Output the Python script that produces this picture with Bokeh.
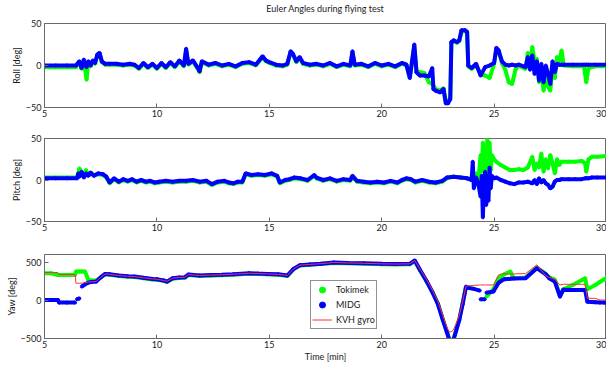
import numpy as np
from bokeh.plotting import figure
from bokeh.layouts import column
from bokeh.models import FixedTicker, Legend, LegendItem, Range1d, Div
from bokeh.embed import file_html
from bokeh.resources import INLINE

NAN = float("nan")

# ---------------- data ----------------
title_text = "Euler Angles during flying test"
x_ticks = [5, 10, 15, 20, 25, 30]

roll_t = [5.0, 5.5, 6.0, 6.4, 6.55, 6.65, 6.75, 6.87, 6.95, 7.05,
          7.15, 7.25, 7.35, 7.45, 7.55, 7.7, 7.9, 8.2, 8.5, 8.8,
          9.0, 9.2, 9.4, 9.6, 9.8, 10.0, 10.2, 10.4, 10.6, 10.8,
          11.0, 11.2, 11.3, 11.4, 11.6, 11.8, 11.9, 12.0, 12.3, 12.6,
          12.9, 13.2, 13.5, 13.8, 14.1, 14.4, 14.7, 14.85, 15.0, 15.3,
          15.6, 15.8, 15.95, 16.05, 16.2, 16.35, 16.5, 16.8, 17.1, 17.4,
          17.7, 18.0, 18.3, 18.6, 18.7, 18.8, 19.1, 19.4, 19.7, 20.0,
          20.3, 20.6, 20.9, 21.1, 21.25, 21.35, 21.45, 21.55, 21.7, 21.9,
          22.1, 22.25, 22.3, 22.4, 22.6, 22.75, 22.85, 22.95, 23.05, 23.1,
          23.2, 23.35, 23.45, 23.55, 23.7, 23.8, 23.85, 24.0, 24.2, 24.4,
          24.6, 24.8, 25.0, 25.1, 25.2, 25.35, 25.5, 25.65, 25.8, 25.95,
          26.1, 26.4, 26.5, 26.6, 26.7, 26.8, 26.9, 27.0, 27.1, 27.2,
          27.3, 27.4, 27.5, 27.6, 27.7, 27.8, 27.9, 28.0, 28.1, 28.5,
          29.0, 29.1, 29.2, 29.5, 30.0]
roll_midg = [0, 0, 0, 0, 5, -3, 7, -2, 5, 0,
             6, 3, 13, 15, 5, 2, 2, 2, 1, 2,
             1, -3, 3, -2, 2, -3, 3, -2, 4, -1,
             6, 0, 20, 2, 6, -2, -7, 5, 1, 3,
             0, 2, -1, 3, 4, 1, 11, 6, 4, 1,
             0, 2, 17, 14, 5, 10, 3, 1, 2, 0,
             3, -1, 2, 0, 17, 1, 2, -1, 3, 0,
             2, -1, 3, 1, -15, 5, 25, -8, -12, -12,
             -13, -3, -28, -30, -32, -28, -45, -45, -40, 28,
             30, 28, 30, 42, 42, 40, 0, -3, 2, -12,
             -2, 0, 3, 21, 18, 5, 1, 0, 1, 0,
             1, -2, 10, -5, 12, -10, 5, -18, 2, -20,
             0, -10, -22, 5, -8, 2, 1, 1, 1, 1,
             1, 1, 1, 1, 1]
roll_tokimek = [-2, -2, -2, -2, 4, -4, 6, -17, 4, -1,
                5, 2, 12, 14, 4, 1, 1, 1, 0, 1,
                0, -4, 2, -3, 1, -4, 2, -3, 3, -2,
                5, -1, 18, 1, 5, -3, -8, 4, 0, 2,
                -1, 1, -2, 2, 3, 0, 10, 5, 3, 0,
                -1, 1, 16, 13, 4, 9, 2, 0, 1, -1,
                2, -2, 1, -1, 15, 0, 1, -2, 2, -1,
                1, -2, 2, 0, -14, 4, 23, -8, -8, -9,
                -20, -22, -24, -28, -30, -27, -43, -44, -38, 27,
                29, 27, 29, 40, 41, 39, -1, -4, 0, -10,
                -12, -15, 2, 20, 17, 3, -5, -20, -22, -5,
                0, -4, 15, 0, 22, 5, 8, -20, -5, -30,
                -10, -25, -30, 0, -15, 10, 5, 18, 0, -1,
                -1, -20, -3, -1, -1]

pitch_t = [5.0, 5.5, 6.0, 6.45, 6.5, 6.55, 6.65, 6.75, 6.85, 6.95,
           7.05, 7.2, 7.4, 7.6, 7.75, 7.9, 8.1, 8.3, 8.5, 8.7,
           8.9, 9.1, 9.3, 9.5, 9.7, 9.9, 10.1, 10.4, 10.7, 11.0,
           11.3, 11.6, 11.9, 12.2, 12.45, 12.7, 13.0, 13.2, 13.4, 13.6,
           13.8, 13.95, 14.2, 14.5, 14.8, 15.1, 15.35, 15.47, 15.7, 15.9,
           16.1, 16.4, 16.7, 17.0, 17.1, 17.4, 17.7, 18.0, 18.3, 18.6,
           18.7, 18.9, 19.2, 19.5, 19.8, 20.1, 20.4, 20.7, 20.9, 21.1,
           21.3, 21.5, 21.8, 22.1, 22.4, 22.7, 22.9, 23.2, 23.5, 23.8,
           24.0, 24.05, 24.1, 24.2, 24.3, 24.4, 24.45, 24.5, 24.55, 24.6,
           24.65, 24.7, 24.75, 24.8, 24.85, 24.9, 25.0, 25.1, 25.3, 25.5,
           25.7, 25.9, 26.1, 26.3, 26.5, 26.7, 26.8, 26.9, 27.0, 27.1,
           27.2, 27.3, 27.4, 27.5, 27.6, 27.7, 27.8, 27.9, 28.0, 28.3,
           28.6, 28.9, 29.05, 29.1, 29.2, 29.35, 29.6, 30.0]
pitch_midg = [2, 2, 2, 2, 8, 4, 10, 3, 8, 5,
              9, 5, 8, 7, 4, -3, 2, -2, 1, -1,
              1, -2, 0, -2, -1, -3, -2, -1, -2, -1,
              -1, 0, -2, -1, -5, -2, -1, -3, -4, -2,
              -2, 8, 6, 7, 6, 8, 5, -3, 0, 1,
              3, 2, 0, 6, 3, 0, 2, -1, 1, 0,
              5, -1, -2, -3, -2, -3, -1, -3, 0, 2,
              1, -2, 0, -2, -3, -1, 3, 4, 3, 2,
              0, 22, -10, 3, -5, -20, 5, -45, -5, 10,
              -30, 5, -25, 15, -10, 5, 2, 3, 0, -2,
              -4, -5, -3, -3, -2, -4, 0, -5, 2, -3,
              0, -4, -6, -10, -8, -2, 0, 0, 1, 1,
              1, 1, 2, 2, 2, 3, 3, 3]
pitch_tokimek = [3, 3, 3, 3, 7, 14, 9, 5, 12, 6,
                 8, 6, 7, 6, 3, -4, 1, -3, 0, -2,
                 0, -3, -1, -3, -2, -4, -3, -2, -3, -2,
                 -2, -1, -3, -2, -6, -3, -2, -4, -5, -3,
                 -3, 7, 5, 6, 5, 7, 4, -4, -1, 0,
                 2, 1, -1, 5, 2, -1, 1, -2, 0, -1,
                 4, -2, -3, -4, -3, -4, -2, -4, -1, 1,
                 0, -3, -1, -3, -4, -2, 2, 4, 3, 2,
                 1, 5, 2, 8, 0, 30, 10, 45, 15, 40,
                 5, 50, 20, 45, 12, 30, 25, 22, 18, 15,
                 12, 12, 13, 12, 15, 28, 12, 20, 15, 32,
                 10, 25, 14, 30, 20, 8, 25, 18, 22, 22,
                 22, 23, 20, 10, 25, 28, 28, 29]

yaw_t = [5.0, 5.3, 5.6, 5.65, 6.0, 6.36, 6.4, 6.45, 6.55, 6.64,
         6.66, 6.8, 6.95, 7.1, 7.3, 7.5, 7.7, 7.9, 8.3, 8.7,
         9.0, 9.4, 9.8, 10.0, 10.3, 10.45, 10.7, 11.0, 11.25, 11.4,
         11.9, 12.4, 12.9, 13.4, 14.1, 14.5, 14.9, 15.4, 15.8, 16.07,
         16.36, 16.8, 17.3, 17.87, 18.5, 19.2, 20.0, 20.6, 21.25, 21.47,
         21.7, 22.0, 22.28, 22.5, 22.72, 22.9, 23.0, 23.1, 23.2, 23.45,
         23.6, 23.75, 23.9, 24.1, 24.36, 24.38, 24.4, 24.58, 24.62, 24.66,
         24.97, 25.2, 25.34, 25.45, 25.72, 25.87, 26.4, 26.9, 27.3, 27.45,
         27.7, 27.93, 28.08, 28.5, 29.05, 29.15, 29.5, 29.7, 29.9, 30.0]
yaw_midg = [5, 5, 5, -30, -30, -30, NAN, 15, 25, NAN,
            180, 210, 232, 240, 245, 300, 346, 340, 325, 315,
            311, 295, 280, 276, 260, 245, 290, 300, 303, 338,
            325, 330, 335, 342, 355, 350, 346, 340, 325, 410,
            460, 470, 480, 496, 490, 485, 478, 475, 478, 522,
            400, 250, 92, -50, -259, -420, -510, -530, -510, -259,
            -50, 179, 160, 150, 127, NAN, 13, 13, NAN, 100,
            115, 230, 258, 276, 282, 286, 290, 421, 340, 290,
            245, 48, 140, 135, 135, -20, -25, -28, -30, -30]
yaw_tokimek = [355, 355, 330, 330, 330, 330, 377, 377, 377, 377,
               377, 377, 268, 260, 260, 300, 340, 335, 318, 308,
               305, 290, 272, 270, 255, 240, 282, 292, 296, 330,
               318, 322, 328, 335, 348, 344, 340, 333, 318, 405,
               455, 465, 475, 490, 484, 480, 472, 470, 472, 515,
               395, 245, 95, -40, -250, -410, -500, -520, -500, -250,
               -40, 175, 165, 150, NAN, NAN, NAN, NAN, NAN, 48,
               145, 290, 320, 340, 377, 290, 300, 430, 345, 300,
               270, 60, 145, 200, 290, 145, 200, 240, 276, 290]
yaw_kvh = [364, 364, 364, 338, 338, 338, 224, 224, 224, 224,
           224, 230, 240, 242, 247, 300, 346, 340, 325, 315,
           311, 295, 280, 276, 260, 248, 290, 300, 303, 338,
           325, 330, 335, 342, 355, 350, 346, 340, 325, 410,
           460, 470, 480, 496, 490, 485, 478, 475, 478, 522,
           410, 270, 120, -10, -200, -350, -413, -413, -380, -200,
           -20, 185, 190, 195, 201, 201, 201, 201, 201, 201,
           201, 333, 346, 346, 346, 346, 350, 465, 320, 300,
           276, 201, 210, 210, 210, 26, 26, 4, 4, 4]

FONT = "Lato"
TXT = "#1a1a1a"
AX = "#6a6a6a"
GREEN = "#00ff00"
BLUE = "#0000ff"
RED = "#ff3030"


def make_fig(height, top, bottom, yr, yticks, ylabel):
    p = figure(width=606, height=height, x_range=Range1d(5, 30), y_range=Range1d(*yr),
               output_backend="svg", toolbar_location=None,
               min_border_left=44, min_border_right=0,
               min_border_top=top, min_border_bottom=bottom)
    p.outline_line_color = AX
    p.xgrid.visible = False
    p.ygrid.visible = False
    p.background_fill_color = "white"
    p.border_fill_color = "white"
    xa = p.below[0]
    ya = p.left[0]
    for ax in (xa, ya):
        ax.major_tick_in = 4
        ax.major_tick_out = 0
        ax.minor_tick_line_color = None
        ax.axis_line_color = AX
        ax.major_tick_line_color = AX
        ax.major_label_text_font = FONT
        ax.major_label_text_font_size = "9px"
        ax.major_label_text_color = TXT
        ax.axis_label_text_font = FONT
        ax.axis_label_text_font_size = "9px"
        ax.axis_label_text_font_style = "normal"
        ax.axis_label_text_color = TXT
    xa.ticker = FixedTicker(ticks=x_ticks)
    xa.major_label_standoff = 2
    ya.ticker = FixedTicker(ticks=yticks)
    ya.major_label_standoff = 3
    ya.axis_label = ylabel
    ya.axis_label_standoff = 1
    return p, xa, ya


def pair(p, t, tok, midg):
    tt = np.array(t, dtype=float)
    a = np.array(tok, dtype=float)
    b = np.array(midg, dtype=float)
    p.line(tt, a, line_color=GREEN, line_width=4)
    g = p.scatter(tt, a, size=3, marker="circle", fill_color=GREEN, line_color=GREEN)
    p.line(tt, b, line_color=BLUE, line_width=4)
    bl = p.scatter(tt, b, size=3, marker="circle", fill_color=BLUE, line_color=BLUE)
    return g, bl


title_div = Div(text=('<div style="display:block;width:562px;margin-left:44px;text-align:center;'
                      'font-family:Lato;font-size:9px;line-height:18px;color:%s;'
                      'white-space:nowrap;">%s</div>' % (TXT, title_text)),
                width=606, height=14, margin=0)

p1, x1, y1 = make_fig(108, 9, 15, (-50, 50), [-50, 0, 50], "Roll [deg]")
pair(p1, roll_t, roll_tokimek, roll_midg)

p2, x2, y2 = make_fig(115, 16, 16, (-50, 50), [-50, 0, 50], "Pitch [deg]")
pair(p2, pitch_t, pitch_tokimek, pitch_midg)

p3, x3, y3 = make_fig(129, 17, 28, (-500, 600), [-500, 0, 500], "Yaw [deg]")
x3.axis_label = "Time [min]"
x3.axis_label_standoff = 0
g3, b3 = pair(p3, yaw_t, yaw_tokimek, yaw_midg)
r3 = p3.line(np.array(yaw_t, dtype=float), np.array(yaw_kvh, dtype=float), line_color=RED, line_width=1)

legend = Legend(items=[LegendItem(label="Tokimek", renderers=[g3]),
                       LegendItem(label="MIDG", renderers=[b3]),
                       LegendItem(label="KVH gyro", renderers=[r3])],
                location=(266, 9), orientation="vertical")
legend.label_text_font = FONT
legend.label_text_font_size = "9px"
legend.label_text_color = TXT
legend.border_line_color = "#222222"
legend.border_line_width = 1
legend.background_fill_alpha = 1
legend.padding = 1
legend.spacing = 0
legend.margin = 0
legend.label_height = 15
legend.glyph_height = 15
legend.glyph_width = 20
legend.label_standoff = 4
p3.add_layout(legend)

layout = column(title_div, p1, p2, p3, spacing=0)
open("out.html", "w").write(file_html(layout, INLINE))
